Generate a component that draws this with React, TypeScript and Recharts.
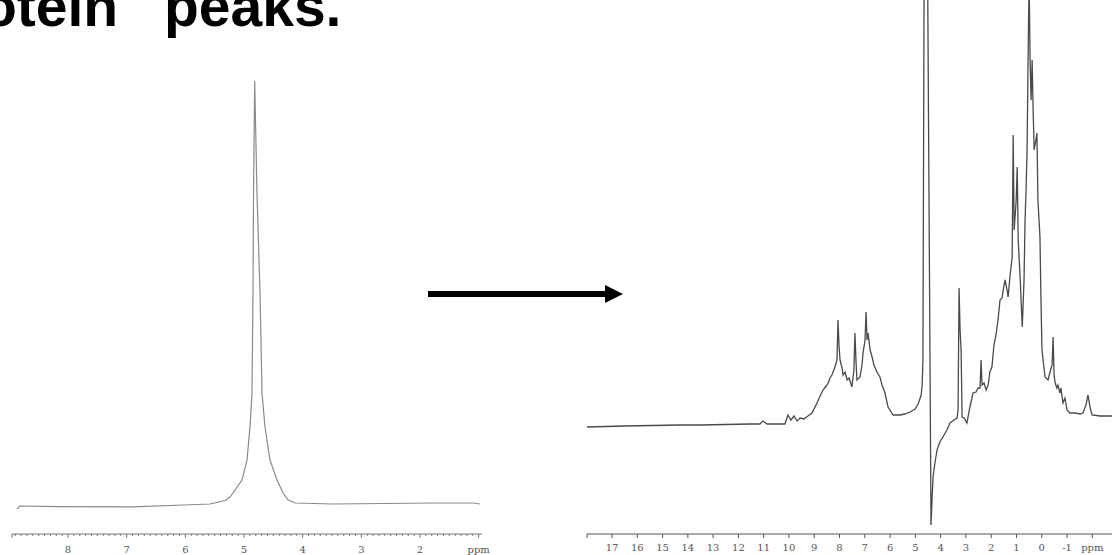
import React from 'react';
import { LineChart, Line, XAxis, YAxis } from 'recharts';

// ---------- text ----------
const titleWords = ['otein', 'peaks.'];

// ---------- left spectrum (before) ----------
const leftPpm = [
  8.87, 8.82, 8.14, 6.89, 6.04, 5.58, 5.50, 5.32, 5.239, 5.188, 5.034, 4.949, 4.898,
  4.864, 4.847, 4.838, 4.818, 4.779, 4.727, 4.693, 4.642, 4.557, 4.438, 4.335,
  4.25, 4.131, 3.483, 1.779, 1.097, 0.978,
];
const leftIntensity = [
  -1.2, -0.47, -0.6, -0.7, -0.24, 0, 0.24, 0.83, 1.65, 2.6, 5.67, 10.4, 18.2,
  26.2, 49.9, 73.5, 100, 73.5, 49.9, 26.2, 18.2, 10.4, 5.67, 2.6,
  1.0, 0.24, 0, 0.24, 0.24, 0,
];

// ---------- right spectrum (after) ----------
const rightPpm = [
  17.99, 16.5, 14.31, 13.52, 11.55, 11.15, 11.03, 10.87, 10.16, 10.04, 9.92, 9.8, 9.68,
  9.56, 9.41, 9.25, 9.09, 8.89, 8.77, 8.65, 8.53, 8.45, 8.38, 8.3, 8.18, 8.1, 8.06,
  8.02, 7.98, 7.9, 7.86, 7.78, 7.7, 7.62, 7.51, 7.43, 7.39, 7.35, 7.31, 7.19, 7.11,
  7.07, 6.99, 6.95, 6.91, 6.87, 6.79, 6.71, 6.64, 6.6, 6.52, 6.4, 6.32, 6.2, 6.08,
  5.88, 5.61, 5.41, 5.21, 5.01, 4.89, 4.77, 4.73, 4.7, 4.64, 4.54, 4.38, 4.34, 4.3,
  4.22, 4.14, 4.03, 3.91, 3.75, 3.63, 3.47, 3.35, 3.31, 3.27, 3.23, 3.19, 3.15, 3.07,
  2.96, 2.84, 2.72, 2.6, 2.52, 2.44, 2.4, 2.36, 2.28, 2.2, 2.12, 2.05, 1.97, 1.89,
  1.81, 1.73, 1.65, 1.57, 1.49, 1.45, 1.37, 1.33, 1.25, 1.17, 1.13, 1.09, 1.01, 0.97,
  0.93, 0.85, 0.77, 0.7, 0.66, 0.62, 0.58, 0.54, 0.5, 0.46, 0.42, 0.38, 0.34, 0.3,
  0.23, 0.19, 0.15, 0.07, 0.03, -0.01, -0.13, -0.25, -0.33, -0.41, -0.45, -0.49, -0.53,
  -0.6, -0.64, -0.72, -0.76, -0.84, -0.92, -1.0, -1.12, -1.32, -1.52, -1.63, -1.75,
  -1.83, -1.91, -1.99, -2.31, -2.78,
];
const rightIntensity = [
  0, 0.25, 0.5, 0.5, 0.75, 0.75, 1.5, 0.75, 0.75, 3, 1.75, 2.75, 1.5,
  2.25, 2, 2.75, 3.5, 6, 7.75, 9.25, 10.25, 11, 12.25, 13, 15, 16.75, 26.75,
  20.5, 16.75, 14.75, 13, 13.75, 11.75, 12.25, 10, 14.25, 23.5, 16.75, 11.75, 12.5, 15.5,
  18.5, 21.75, 28.75, 21.75, 23.5, 19.25, 17.5, 15.5, 15, 13.75, 12.5, 10.5, 8.5, 5,
  3, 3, 3.25, 3.75, 4.5, 5.75, 8, 10.5, 16.75, 140, 140, -24.5, -18.25, -12.5,
  -8.75, -5.75, -3.75, -2.5, -0.75, 1, 1.75, 2.25, 4.25, 34.75, 24.25, 19.25, 2.5, 2.25,
  1, 5, 8.5, 8.75, 9.75, 9.75, 16.75, 10.5, 11, 9.25, 10.5, 13.75, 15, 20.5,
  23, 26.75, 31.75, 32.25, 35.5, 36.75, 34.25, 32.5, 38, 42.5, 73, 49.25, 56.75, 65,
  46.75, 36.75, 25, 36.75, 51.75, 59.25, 69.25, 91.75, 112, 91.75, 81.75, 91.75, 79.25, 69.25,
  71.75, 73.5, 56.75, 47.5, 31.75, 19.25, 12.5, 11.75, 13.75, 15.5, 22.5, 13, 11,
  9.75, 10.5, 8.5, 9.75, 6, 7.25, 4.25, 3.5, 3.5, 3.25, 3.5, 5.5,
  8, 5, 3, 2.75, 2.75,
];

// ---------- axes ----------
const leftMajorTicks = [8, 7, 6, 5, 4, 3, 2, 1];
const leftTickLabels = ['8', '7', '6', '5', '4', '3', '2', 'ppm'];
const rightMajorTicks = [17, 16, 15, 14, 13, 12, 11, 10, 9, 8, 7, 6, 5, 4, 3, 2, 1, 0, -1, -2];
const rightTickLabels = ['17', '16', '15', '14', '13', '12', '11', '10', '9', '8', '7', '6', '5', '4', '3', '2', '1', '0', '-1', 'ppm'];

const leftDomain: [number, number] = [0.943, 8.955];
const rightDomain: [number, number] = [-2.78, 17.99];

const leftData = leftPpm.map((p, i) => ({ ppm: p, v: leftIntensity[i] }));
const rightData = rightPpm.map((p, i) => ({ ppm: p, v: rightIntensity[i] }));

const leftMinorTicks: number[] = [];
for (let k = 89; k >= 10; k--) {
  if (k % 10 !== 0) leftMinorTicks.push(k / 10);
}
const leftAllTicks = [leftDomain[1], ...leftMajorTicks, ...leftMinorTicks].sort((a, b) => b - a);
const rightAllTicks = [rightDomain[1], ...rightMajorTicks];

const makeTick = (majors: number[], labels: string[], labelDy: number, color: string) => (props: any) => {
  const { x, y, payload } = props;
  const v = payload.value as number;
  const idx = majors.findIndex((m) => Math.abs(m - v) < 1e-6);
  const isMajor = idx >= 0;
  const label = isMajor ? labels[idx] : '';
  const isEdge = !isMajor && Math.abs(v - Math.round(v * 10) / 10) > 1e-6;
  const len = isMajor ? 4 : isEdge ? 4 : 2;
  return (
    <g>
      <line x1={x} y1={y} x2={x} y2={y + len} stroke={color} strokeWidth={1} />
      {label && (
        <text
          x={x}
          y={y + labelDy}
          textAnchor="middle"
          fontSize={10}
          fontFamily="'DejaVu Serif', 'Liberation Serif', serif"
          fill="#555"
        >
          {label}
        </text>
      )}
    </g>
  );
};

const LeftTick = makeTick(leftMajorTicks, leftTickLabels, 19, '#777');
const RightTick = makeTick(rightMajorTicks, rightTickLabels, 17, '#555');

export default function App() {
  return (
    <div
      style={{
        position: 'absolute',
        left: 0,
        top: 0,
        width: 1112,
        height: 555,
        background: '#ffffff',
        overflow: 'hidden',
      }}
    >
      <div style={{ position: 'absolute', left: 0, top: 0 }}>
        <LineChart width={500} height={555} data={leftData} margin={{ top: 0, right: 18, bottom: 0, left: 12 }}>
          <XAxis
            dataKey="ppm"
            type="number"
            domain={leftDomain}
            reversed
            allowDataOverflow
            ticks={leftAllTicks}
            interval={0}
            height={21}
            tickSize={0}
            tickMargin={0}
            tickLine={false}
            axisLine={{ stroke: '#777', strokeWidth: 1 }}
            tick={LeftTick}
          />
          <YAxis hide width={0} type="number" domain={[-7.09, 119.15]} allowDataOverflow />
          <Line
            type="linear"
            dataKey="v"
            stroke="#8a8a8a"
            strokeWidth={1.2}
            dot={false}
            isAnimationActive={false}
          />
        </LineChart>
      </div>

      <div style={{ position: 'absolute', left: 570, top: 0 }}>
        <LineChart width={542} height={555} data={rightData} margin={{ top: 0, right: 0, bottom: 0, left: 17 }}>
          <XAxis
            dataKey="ppm"
            type="number"
            domain={rightDomain}
            reversed
            allowDataOverflow
            ticks={rightAllTicks}
            interval={0}
            height={21}
            tickSize={0}
            tickMargin={0}
            tickLine={false}
            axisLine={{ stroke: '#555', strokeWidth: 1 }}
            tick={RightTick}
          />
          <YAxis hide width={0} type="number" domain={[-26.75, 106.75]} allowDataOverflow />
          <Line
            type="linear"
            dataKey="v"
            stroke="#4a4a4a"
            strokeWidth={1.3}
            dot={false}
            isAnimationActive={false}
          />
        </LineChart>
      </div>

      <svg
        width={1112}
        height={555}
        style={{ position: 'absolute', left: 0, top: 0, pointerEvents: 'none' }}
      >
        <text
          x={-18}
          y={26}
          fontFamily="'Liberation Sans', Arial, sans-serif"
          fontWeight="bold"
          fontSize={57}
          fill="#000"
        >
          {titleWords[0]}
        </text>
        <text
          x={164}
          y={26}
          fontFamily="'Liberation Sans', Arial, sans-serif"
          fontWeight="bold"
          fontSize={57}
          fill="#000"
        >
          {titleWords[1]}
        </text>
        <line x1={428} y1={294} x2={608} y2={294} stroke="#000" strokeWidth={6} />
        <polygon points="605,285 623,294 605,303" fill="#000" />
      </svg>
    </div>
  );
}
